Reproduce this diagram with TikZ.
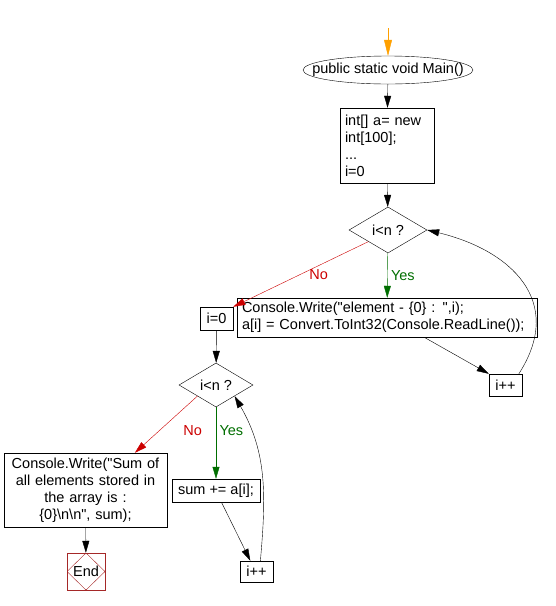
\documentclass[tikz,border=0pt]{standalone}
\usepackage{fontspec}
\setmainfont{Liberation Sans}
\usetikzlibrary{positioning, arrows.meta, shapes.geometric}
\definecolor{noRed}{RGB}{204,0,0}
\definecolor{yesGreen}{RGB}{0,110,0}
\definecolor{startOrange}{RGB}{255,160,0}
\definecolor{endRed}{RGB}{165,40,40}

\begin{document}
\begin{tikzpicture}[x=1pt,y=1pt,
  font=\fontsize{14.5}{17}\selectfont,
  box/.style={draw, rectangle, inner sep=0pt},
  cond/.style={draw, diamond, inner sep=0pt},
  flow/.style={-{Triangle[length=12pt,width=7pt]}},
  nolabel/.style={text=noRed},
  yeslabel/.style={text=yesGreen}]
\useasboundingbox (0,0) rectangle (556,-606);
% start
\coordinate (start) at (388,-28);
\node[draw, ellipse, minimum width=170pt, minimum height=28pt, inner xsep=-20pt, inner ysep=0pt] (main) at (388,-70) {public static void Main()};
\node[box, text width=84pt, inner xsep=5pt, minimum height=75pt, align=left] (init) at (387,-145.5) {int[] a= new\\int[100];\\...\\i=0};
% first loop
\node[cond, minimum width=78pt, minimum height=46pt] (cond1) at (388,-230) {i<n ?};
\node[box, text width=290pt, inner xsep=5pt, minimum height=39pt, align=left] (read) at (387,-317.5) {Console.Write(\textquotedbl element - \{0\} : \textquotedbl,i);\\a[i] = Convert.ToInt32(Console.ReadLine());};
\node[box, minimum width=33pt, minimum height=22pt] (inc1) at (505.5,-385) {i++};
\node[box, minimum width=33pt, minimum height=23pt] (iz) at (216.5,-318.5) {i=0};
% second loop
\node[cond, minimum width=74pt, minimum height=44pt] (cond2) at (216,-385) {i<n ?};
\node[box, minimum width=88pt, minimum height=23pt] (sum) at (216,-490.5) {sum += a[i];};
\node[box, minimum width=33pt, minimum height=21pt] (inc2) at (256.5,-571.5) {i++};
\node[box, text width=153pt, inner xsep=5pt, minimum height=74pt, align=center] (print) at (85.5,-490) {Console.Write(\textquotedbl Sum of\\all elements stored in\\the array is :\\\{0\}\textbackslash n\textbackslash n\textquotedbl, sum);};
% end
\node[draw=endRed, minimum width=38pt, minimum height=37pt, inner sep=0pt,
  path picture={\draw[endRed] (path picture bounding box.north) -- (path picture bounding box.east) -- (path picture bounding box.south) -- (path picture bounding box.west) -- cycle;}] (end) at (86,-571.5) {End};

% connectors
\draw[-{Triangle[length=16pt,width=8pt]}, startOrange] (start) -- (main);
\draw[flow] (main) -- (init);
\draw[flow] (init) -- (cond1);
\draw[flow, yesGreen] (cond1) -- node[right, yeslabel] {Yes} (read);
\draw[flow, noRed] (cond1.south west) -- node[pos=0.5, right, xshift=5pt, nolabel] {No} (iz.north east);
\draw[flow] (read.-28) -- (inc1.north west);
\draw[flow] (inc1.40) .. controls +(47,73) and +(83,-20) .. (cond1.east);
\draw[flow] (iz) -- (cond2);
\draw[flow, yesGreen] (cond2) -- node[pos=0.33, right, yeslabel] {Yes} (sum);
\draw[flow, noRed] (cond2.south west) -- node[pos=0.6, right, xshift=20pt, nolabel] {No} (print.37);
\draw[flow] (sum.-65) -- (inc2.120);
\draw[flow] (inc2.70) to[out=85, in=-60] (cond2.south east);
\draw[flow] (print) -- (end);
\end{tikzpicture}
\end{document}
